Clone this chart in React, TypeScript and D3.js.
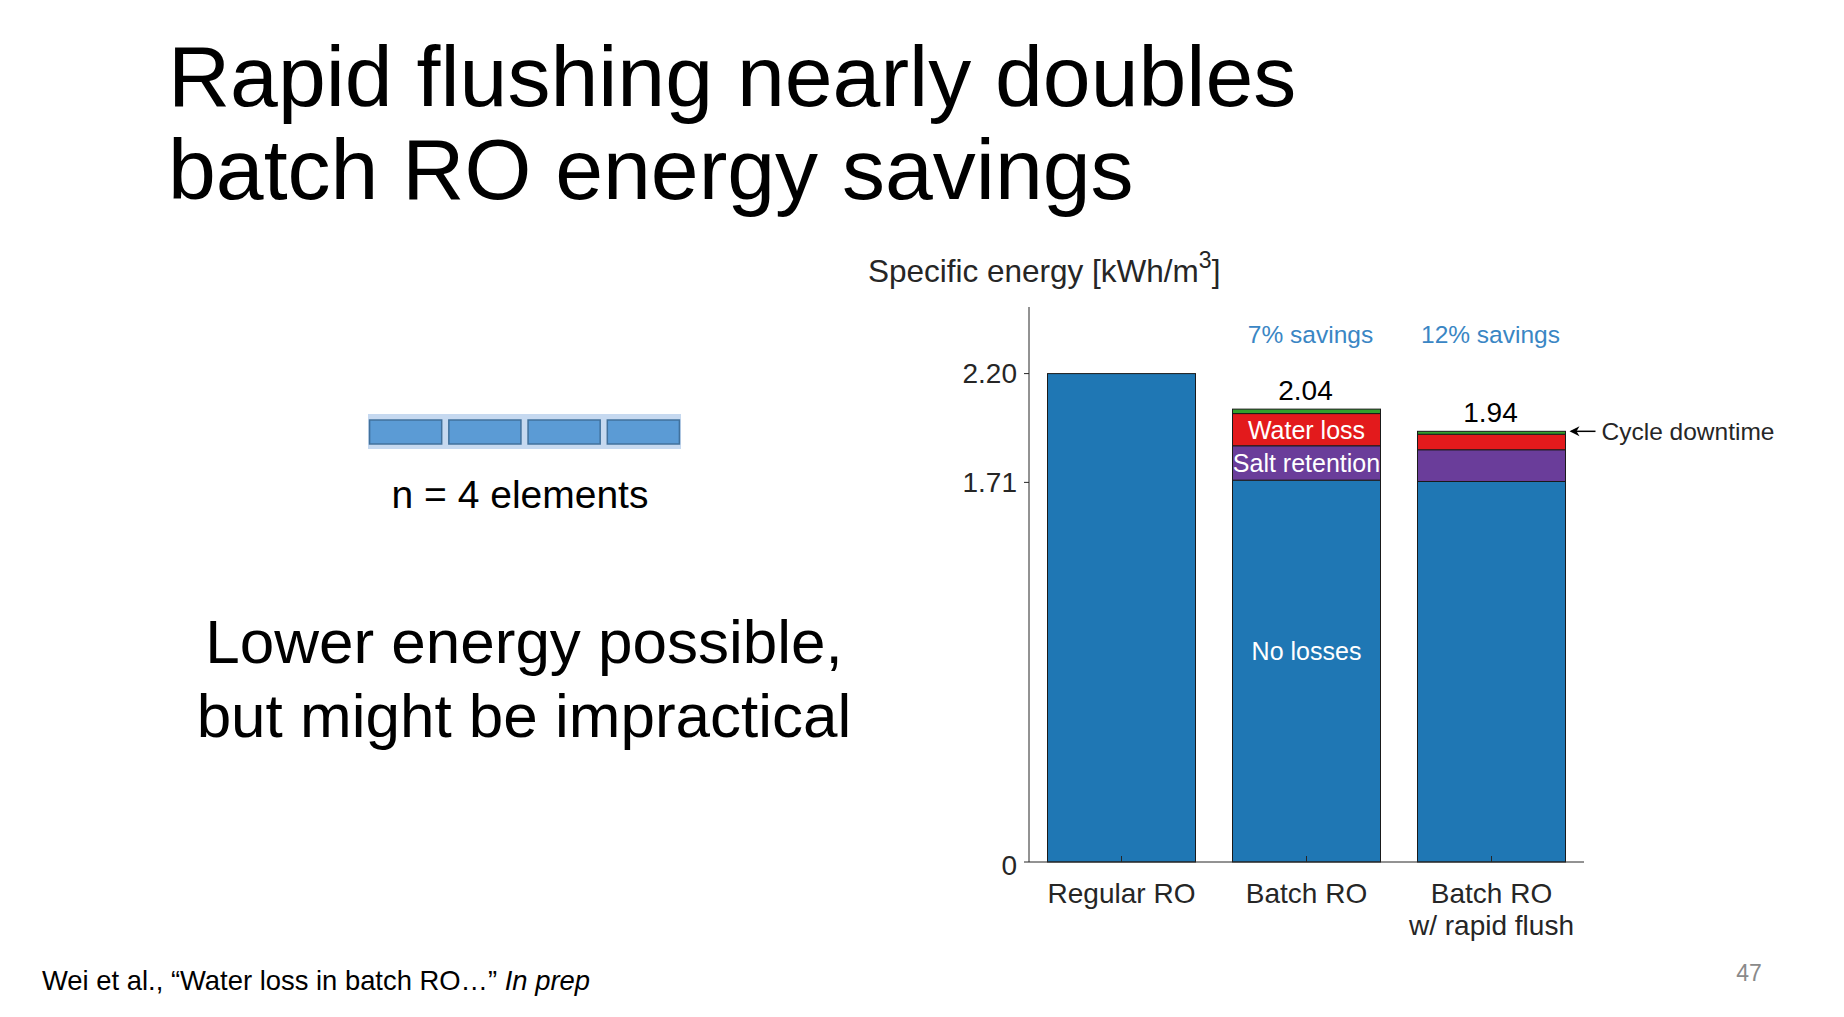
import React from "react";
import * as d3 from "d3";

const categories = ["Regular RO", "Batch RO", "Batch RO|w/ rapid flush"];
const seriesKeys = ["noLosses", "saltRetention", "waterLoss", "cycleDowntime"];
const noLosses = [2.2, 1.72, 1.714];
const saltRetention = [0, 0.155, 0.143];
const waterLoss = [0, 0.145, 0.07];
const cycleDowntime = [0, 0.02, 0.013];
const totalLabels = ["", "2.04", "1.94"];
const savingsLabels = ["", "7% savings", "12% savings"];
const yTicks = [0, 1.71, 2.2];
const yTickLabels = ["0", "1.71", "2.20"];
const segmentLabels = ["No losses", "Salt retention", "Water loss", ""];
const elementIds = [1, 2, 3, 4];

const W = 1844;
const H = 1017;
const FONT = "'Liberation Sans', Arial, Helvetica, sans-serif";
const colors: Record<string, string> = {
  noLosses: "#1f77b4",
  saltRetention: "#6a3d9a",
  waterLoss: "#e31a1c",
  cycleDowntime: "#33a02c",
};

export default function App() {
  const rows = categories.map((c, i) => ({
    cat: c,
    noLosses: noLosses[i],
    saltRetention: saltRetention[i],
    waterLoss: waterLoss[i],
    cycleDowntime: cycleDowntime[i],
  }));
  const stack = d3.stack<any>().keys(seriesKeys);
  const series = stack(rows);

  const x0 = 1029, x1 = 1584, yBase = 862, yTop = 307;
  const x = d3.scaleBand<string>().domain(categories).range([x0, x1]).paddingInner(0.2).paddingOuter(0.1);
  const y = d3.scaleLinear().domain([0, 2.5]).range([yBase, yTop]);
  const axisColor = "#262626";

  const ex = d3.scaleBand<number>().domain(elementIds).range([368, 681]).paddingInner(0.09).paddingOuter(0.02);

  const batchIdx = 1;
  const lastIdx = 2;
  const lastTop = y(d3.sum(seriesKeys.map((k) => (rows[lastIdx] as any)[k])));
  const lastRight = (x(categories[lastIdx]) as number) + x.bandwidth();
  const savingsOffset = [0, 4, -1];

  return (
    <svg width={W} height={H} style={{ position: "absolute", left: 0, top: 0, background: "#fff" }} fontFamily={FONT}>
      <rect x={0} y={0} width={W} height={H} fill="#fff" />
      {/* Title */}
      <text x={168} y={106} fontSize={86} fill="#000">Rapid flushing nearly doubles</text>
      <text x={168} y={199} fontSize={86} fill="#000">batch RO energy savings</text>

      {/* Element diagram */}
      <rect x={368} y={414} width={313} height={35} fill="#c6d9f0" />
      {elementIds.map((d) => (
        <rect key={d} x={ex(d)} y={420} width={ex.bandwidth()} height={24} fill="#5b9bd5" stroke="#41719c" strokeWidth={1.5} />
      ))}
      <text x={520} y={508} fontSize={39} textAnchor="middle" fill="#000">n = 4 elements</text>

      <text x={524} y={663} fontSize={62} textAnchor="middle" fill="#000">Lower energy possible,</text>
      <text x={524} y={737} fontSize={62} textAnchor="middle" fill="#000">but might be impractical</text>

      {/* Citation */}
      <text x={42} y={990} fontSize={27.4} fill="#000">
        Wei et al., “Water loss in batch RO…” <tspan fontStyle="italic">In prep</tspan>
      </text>
      <text x={1749} y={981} fontSize={23} textAnchor="middle" fill="#8a8a8a">47</text>

      {/* Y label */}
      <text x={868} y={282} fontSize={31.5} fill={axisColor}>
        Specific energy [kWh/m<tspan dy={-14} fontSize={23}>3</tspan><tspan dy={14}>]</tspan>
      </text>

      {/* Bars */}
      {series.map((s) => (
        <g key={s.key}>
          {s.map((d, i) =>
            d[1] - d[0] > 0 ? (
              <rect
                key={i}
                x={x(categories[i])}
                y={y(d[1])}
                width={x.bandwidth()}
                height={y(d[0]) - y(d[1])}
                fill={colors[s.key]}
                stroke="#1a1a1a"
                strokeWidth={1}
              />
            ) : null
          )}
        </g>
      ))}

      {/* Segment labels on Batch RO */}
      {series.map((s, k) =>
        segmentLabels[k] ? (
          <text
            key={"sl" + k}
            x={(x(categories[batchIdx]) as number) + x.bandwidth() / 2}
            y={k === 0 ? y(0.95) : (y(s[batchIdx][0]) + y(s[batchIdx][1])) / 2}
            fontSize={25}
            fill="#fff"
            textAnchor="middle"
            dominantBaseline="central"
          >
            {segmentLabels[k]}
          </text>
        ) : null
      )}

      {/* Totals and savings */}
      {categories.map((c, i) => {
        const top = y(d3.sum(seriesKeys.map((k) => (rows[i] as any)[k])));
        const cx = (x(c) as number) + x.bandwidth() / 2;
        return (
          <g key={"t" + i}>
            {totalLabels[i] && (
              <text x={cx - 1} y={top - 9} fontSize={28} fill="#000" textAnchor="middle">{totalLabels[i]}</text>
            )}
            {savingsLabels[i] && (
              <text x={cx + savingsOffset[i]} y={343} fontSize={24.5} fill="#3a86c4" textAnchor="middle">{savingsLabels[i]}</text>
            )}
          </g>
        );
      })}

      {/* Cycle downtime annotation */}
      <line x1={lastRight + 6} y1={lastTop} x2={lastRight + 30} y2={lastTop} stroke="#000" strokeWidth={1.5} />
      <path d={`M${lastRight + 4},${lastTop} l10,-5 l-3,5 l3,5 z`} fill="#000" />
      <text x={lastRight + 36} y={lastTop} fontSize={24.5} fill={axisColor} dominantBaseline="central">Cycle downtime</text>

      {/* Axes */}
      <line x1={x0} y1={yTop} x2={x0} y2={yBase} stroke={axisColor} strokeWidth={1} />
      <line x1={x0} y1={yBase} x2={x1} y2={yBase} stroke={axisColor} strokeWidth={1} />
      {yTicks.map((t, i) => (
        <g key={"yt" + i}>
          <line x1={x0 - 5} x2={x0} y1={y(t)} y2={y(t)} stroke={axisColor} strokeWidth={1} />
          <text x={x0 - 12} y={y(t) + (t === 0 ? 3 : 0)} fontSize={28} fill={axisColor} textAnchor="end" dominantBaseline="central">{yTickLabels[i]}</text>
        </g>
      ))}
      {categories.map((c, i) => {
        const cx = (x(c) as number) + x.bandwidth() / 2;
        const lines = c.split("|");
        return (
          <g key={"xt" + i}>
            <line x1={cx} x2={cx} y1={yBase} y2={yBase - 6} stroke={axisColor} strokeWidth={1} />
            {lines.map((l, j) => (
              <text key={j} x={cx} y={903 + j * 32} fontSize={28} fill={axisColor} textAnchor="middle">{l}</text>
            ))}
          </g>
        );
      })}
    </svg>
  );
}
